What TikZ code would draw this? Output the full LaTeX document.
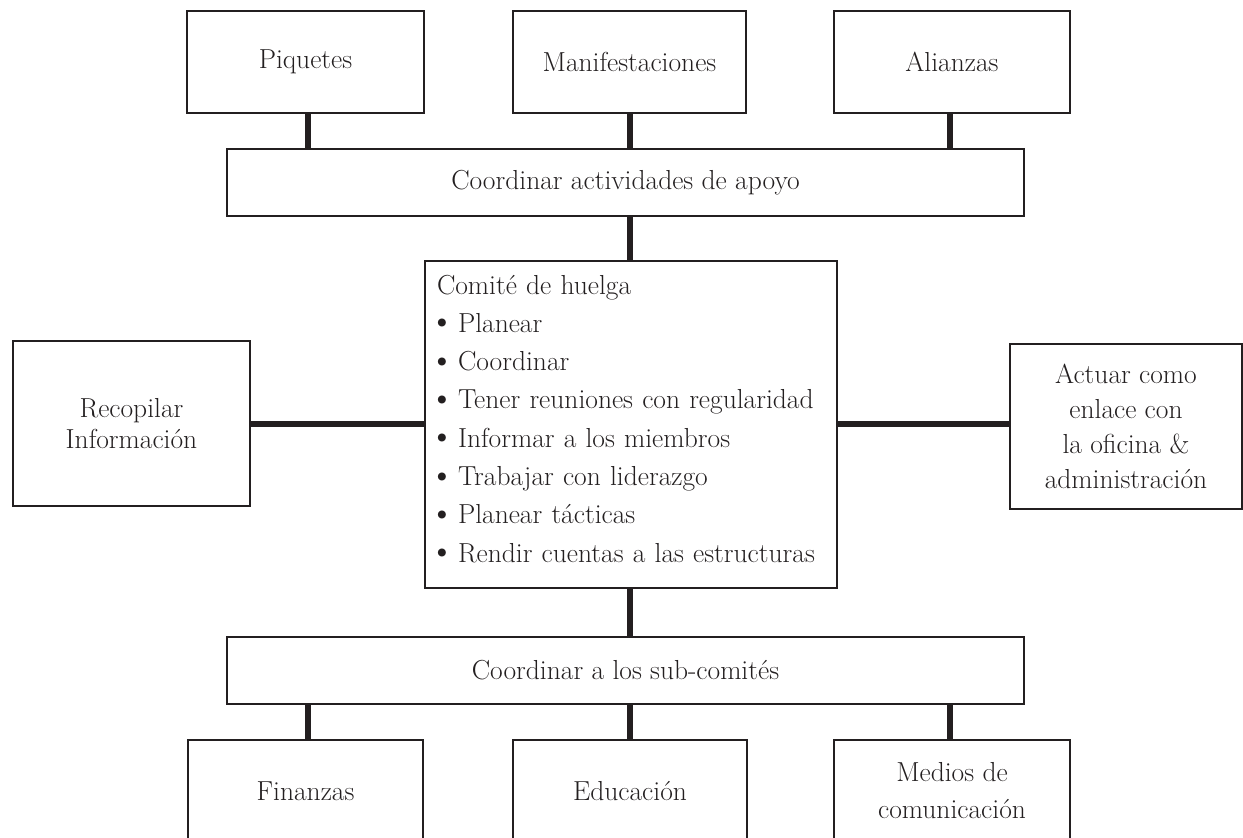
\documentclass[tikz,border=0pt]{standalone}
\usepackage{fontspec}
\definecolor{ink}{HTML}{231F20}
\newcommand{\bul}{\makebox[21pt][l]{\hspace{-8pt}\raisebox{-0.5pt}{\scalebox{1.3}{\textbullet}}}}
\tikzset{
  boxnode/.style={draw=ink, line width=1.3pt, inner sep=0pt, align=center, text=ink,
    font=\fontsize{27.5}{31}\selectfont},
  link/.style={draw=ink, line width=6pt}
}
\begin{document}
\begin{tikzpicture}[x=1pt,y=-1pt]
\useasboundingbox (0,0) rectangle (1243,838);
\clip (0,0) rectangle (1243,838);
% top row
\node[boxnode, minimum width=237pt, minimum height=102pt] (piq) at (305.5,62) {Piquetes};
\node[boxnode, minimum width=233pt, minimum height=102pt] (man) at (629.5,62) {Manifestaciones};
\node[boxnode, minimum width=236pt, minimum height=102pt] (ali) at (952,62) {Alianzas};
% coordinar actividades
\node[boxnode, minimum width=797pt, minimum height=67pt] (apo) at (625.5,182.5) {Coordinar actividades de apoyo};
% central committee
\node[boxnode, align=left, inner xsep=12pt, text width=388pt, minimum height=327pt,
  font=\fontsize{27.5}{38.3}\selectfont] (com) at (631,424.5)
  {Comité de huelga\\
   \bul Planear\\
   \bul Coordinar\\
   \bul Tener reuniones con regularidad\\
   \bul Informar a los miembros\\
   \bul Trabajar con liderazgo\\
   \bul Planear tácticas\\
   \bul Rendir cuentas a las estructuras\rule[-12pt]{0pt}{0pt}};
% sides
\node[boxnode, minimum width=237pt, minimum height=165pt] (rec) at (131.5,423.5) {Recopilar\\Información};
\node[boxnode, minimum width=232pt, minimum height=165pt,
  font=\fontsize{27.5}{35}\selectfont] (act) at (1126,426.5)
  {Actuar como\\enlace con\\la oficina \&\\administración};
% sub committees
\node[boxnode, minimum width=797pt, minimum height=67pt] (sub) at (625.5,670.5) {Coordinar a los sub-comités};
\node[boxnode, minimum width=235pt, minimum height=102pt] (fin) at (305.5,791) {Finanzas};
\node[boxnode, minimum width=234pt, minimum height=102pt] (edu) at (630,791) {Educación};
\node[boxnode, minimum width=236pt, minimum height=102pt,
  font=\fontsize{27.5}{37}\selectfont] (med) at (952,791) {Medios de\\comunicación};
% connectors
\draw[link] ([xshift=2.5pt]piq.south) -- ([xshift=2.5pt]piq.south |- apo.north);
\draw[link] (man.south) -- (man.south |- apo.north);
\draw[link] ([xshift=-2pt]ali.south) -- ([xshift=-2pt]ali.south |- apo.north);
\draw[link] (com.north -| man.south) -- (apo.south -| man.south);
\draw[link] (rec.east) -- (rec.east -| com.west);
\draw[link] (com.east |- rec.east) -- (act.west |- rec.east);
\draw[link] (com.south -| man.south) -- (sub.north -| man.south);
\draw[link] ([xshift=2.5pt]fin.north) -- ([xshift=2.5pt]fin.north |- sub.south);
\draw[link] (edu.north) -- (edu.north |- sub.south);
\draw[link] ([xshift=-2pt]med.north) -- ([xshift=-2pt]med.north |- sub.south);
\end{tikzpicture}
\end{document}
